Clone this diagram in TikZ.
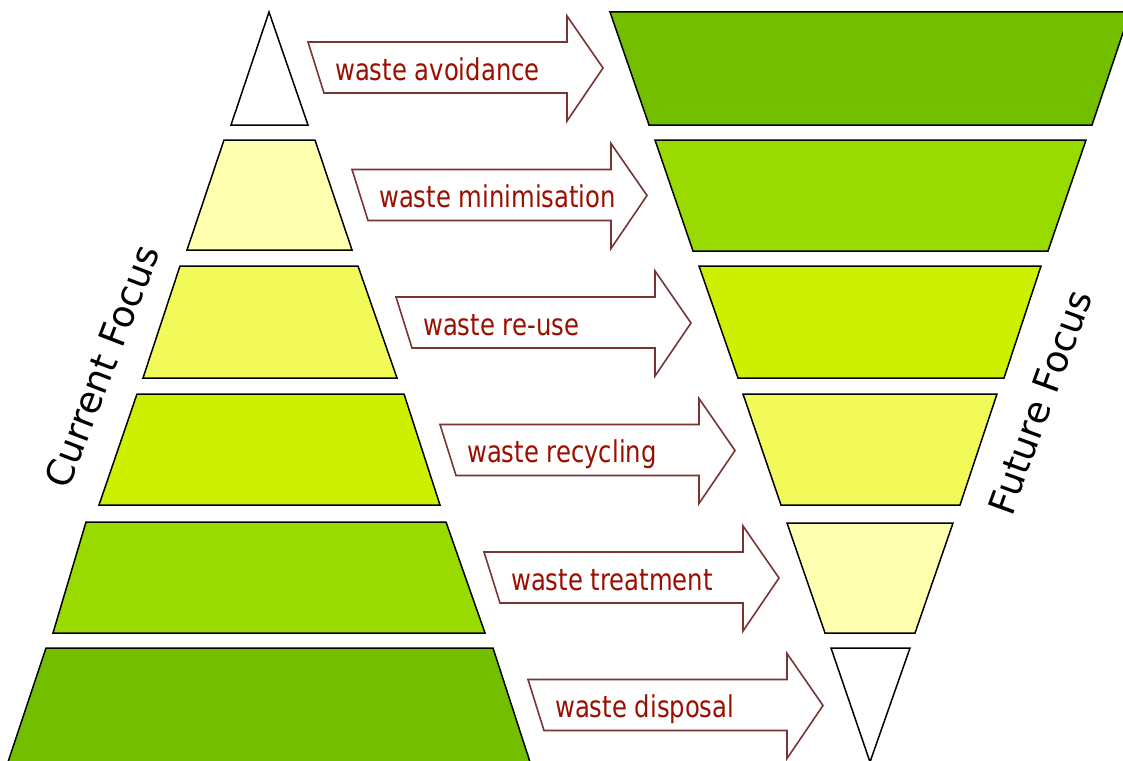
\documentclass[tikz,border=0pt]{standalone}
\usepackage{fontspec}
\newfontfamily\lblfont[FakeStretch=0.81]{DejaVu Sans}
\newfontfamily\focfont{DejaVu Sans}
\definecolor{cwhite}{HTML}{FFFFFF}
\definecolor{clight}{HTML}{FFFFB0}
\definecolor{cyellow}{HTML}{F2FA5A}
\definecolor{clime}{HTML}{CCF000}
\definecolor{cgreen}{HTML}{99DA00}
\definecolor{cdark}{HTML}{74BE00}
\definecolor{arrowline}{HTML}{7A3434}
\definecolor{labeltext}{HTML}{9A1000}
\tikzset{
  tier/.style={draw=black, line width=1.5pt, line join=miter},
  blockarrow/.style={draw=arrowline, fill=white, line width=1.6pt, line join=miter},
  arrowlabel/.style={anchor=base west, inner sep=0pt, text=labeltext, font=\lblfont\fontsize{30}{31}\selectfont},
  focuslabel/.style={inner sep=0pt, text=black, font=\focfont\fontsize{37}{39}\selectfont}
}
\begin{document}
\begin{tikzpicture}[x=1pt, y=-1pt]
\useasboundingbox (0,0) rectangle (1123,760);
\clip (0,0) rectangle (1123,760);
% left pyramid
\draw[tier, fill=cwhite] (269,12) -- (308,125) -- (231,125) -- cycle;
\foreach \ty/\tl/\tr/\by/\bl/\br/\col in {
  140/224/315/250/187/352/clight,
  266/180/358/378/143/397/cyellow,
  394/137/404/505/99/440/clime,
  522/86/446/633/53/485/cgreen,
  648/46/493/762/8/530/cdark}
  \draw[tier, fill=\col] (\tl,\ty) -- (\tr,\ty) -- (\br,\by) -- (\bl,\by) -- cycle;
% right (inverted) pyramid
\foreach \ty/\tl/\tr/\by/\bl/\br/\col in {
  12/610/1130/125/649/1092/cdark,
  140/655/1086/251/693/1048/cgreen,
  266/699/1041/378/738/1004/clime,
  394/743/997/505/781/960/cyellow,
  523/787/953/633/825/915/clight}
  \draw[tier, fill=\col] (\tl,\ty) -- (\tr,\ty) -- (\br,\by) -- (\bl,\by) -- cycle;
\draw[tier, fill=cwhite] (831,648) -- (910,648) -- (870,762) -- cycle;
% block arrows
\foreach \k/\txt in {0/waste avoidance, 1/waste minimisation, 2/waste re-use, 3/waste recycling, 4/waste treatment, 5/waste disposal} {
  \begin{scope}[shift={(44*\k,127.5*\k)}]
    \draw[blockarrow] (308,42) -- (567,42) -- (567,16) -- (603,68) -- (567,121) -- (567,93) -- (324,93) -- cycle;
    \node[arrowlabel] (lbl\k) at (335,80) {\txt};
  \end{scope}
}
% focus labels
\node[focuslabel, rotate=69] (current) at (102,366) {Current Focus};
\node[focuslabel, rotate=70] (future) at (1040,402) {Future Focus};
\end{tikzpicture}
\end{document}
